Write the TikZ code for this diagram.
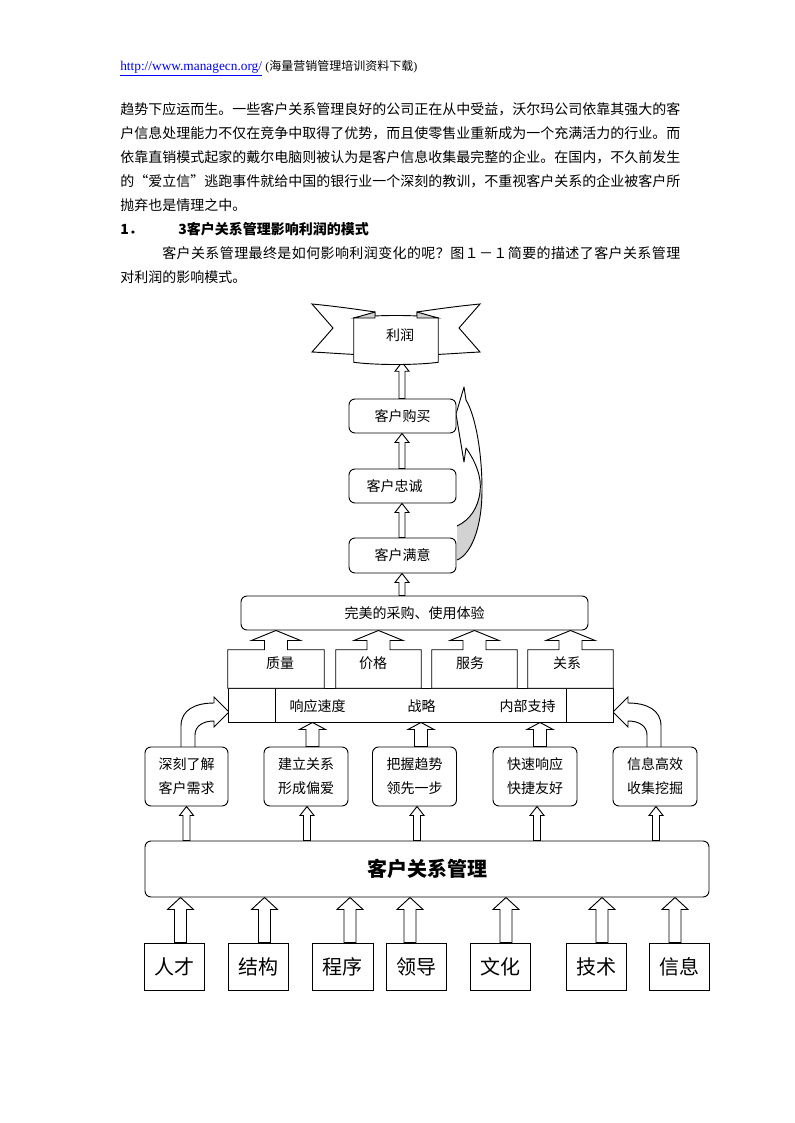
\documentclass[tikz,border=0pt]{standalone}
\usepackage{fontspec}
\setmainfont{Liberation Serif}
\newfontfamily\cjk{Noto Sans CJK SC}
\usetikzlibrary{calc}
\pgfdeclarelayer{paper}
\pgfdeclarelayer{bg}
\pgfsetlayers{paper,bg,main}
\newlength\pxu
\setlength\pxu{0.75pt}
\def\jglue{\hskip 0pt plus 1pt\relax}
\XeTeXinterchartoks 0 0 = {\jglue}
\XeTeXinterchartoks 0 1 = {\jglue}
\XeTeXinterchartoks 0 2 = {\jglue}
\XeTeXinterchartoks 0 3 = {\jglue}
\XeTeXinterchartoks 1 0 = {\jglue}
\XeTeXinterchartoks 1 1 = {\jglue}
\XeTeXinterchartoks 1 2 = {\jglue}
\XeTeXinterchartoks 1 3 = {\jglue}
\XeTeXinterchartoks 2 0 = {\jglue}
\XeTeXinterchartoks 2 1 = {\jglue}
\XeTeXinterchartoks 2 2 = {\jglue}
\XeTeXinterchartoks 2 3 = {\jglue}
\XeTeXinterchartoks 3 0 = {\jglue}
\XeTeXinterchartoks 3 1 = {\jglue}
\XeTeXinterchartoks 3 2 = {\jglue}
\XeTeXinterchartoks 3 3 = {\jglue}
\newcommand\jline[2]{{\XeTeXinterchartokenstate=1 \hbox to #1{#2}}}
% hollow block arrow: x (px), tip point, tail point, shaft half, head half, head length (px)
\newcommand\blkup[6]{%
  \draw[blk] let \p1=(#2), \p2=(#3) in
  ({(#1-#4)*0.75pt},\y2) -- ({(#1-#4)*0.75pt},{\y1-(#6)*0.75pt}) --
  ({(#1-#5)*0.75pt},{\y1-(#6)*0.75pt}) -- ({(#1)*0.75pt},\y1) --
  ({(#1+#5)*0.75pt},{\y1-(#6)*0.75pt}) -- ({(#1+#4)*0.75pt},{\y1-(#6)*0.75pt}) --
  ({(#1+#4)*0.75pt},\y2) -- cycle;}
% up arrow callout: body node, target node
\newcommand\callup[2]{%
  \draw[blk] let \p1=(#1.south west), \p2=(#1.north east), \p3=(#1.center), \p4=(#2.south) in
  (\x1,\y1) -- (\x1,\y2) -- ({\x3-8.625pt},\y2) -- ({\x3-8.625pt},{\y4-7.5pt}) --
  ({\x3-18.375pt},{\y4-7.5pt}) -- (\x3,\y4) -- ({\x3+18.375pt},{\y4-7.5pt}) --
  ({\x3+8.625pt},{\y4-7.5pt}) -- ({\x3+8.625pt},\y2) -- (\x2,\y2) -- (\x2,\y1) -- cycle;}
\begin{document}
\begin{tikzpicture}[x=0.75pt,y=-0.75pt,
  lw/.style={line width=0.7pt},
  body/.style={inner sep=0pt, anchor=west, font=\cjk\fontsize{10.5pt}{18pt}\selectfont},
  lbl/.style={inner sep=0pt, font=\cjk\fontsize{10.5pt}{18pt}\selectfont},
  big/.style={font=\cjk\fontsize{15pt}{18pt}\selectfont},
  wh/.style 2 args={minimum width={(#1)*0.75pt}, minimum height={(#2)*0.75pt}},
  ghost/.style={inner sep=0pt, lbl},
  rbox/.style={draw, lw, rounded corners=4.5pt, fill=white, inner sep=0pt, lbl},
  sbox/.style={draw, lw, fill=white, inner sep=0pt, lbl},
  blk/.style={draw, lw, fill=white, line join=miter},
  shade/.style={fill=gray!35}]
\begin{pgfonlayer}{paper}
\fill[white] (0,0) rectangle (794,1123);
\end{pgfonlayer}
\useasboundingbox (0,0) rectangle (794,1123);

% ---------- header and running text ----------
\node[inner sep=0pt, anchor=base west, font=\fontsize{10pt}{12pt}\selectfont] (hdr) at (120,71)
  {\textcolor{blue}{\underline{http://www.managecn.org/}}\ {\fontsize{9pt}{11pt}\selectfont(\cjk 海量营销管理培训资料下载\rmfamily)}};
\node[body] (p1) at (120,109) {\jline{560\pxu}{趋势下应运而生。一些客户关系管理良好的公司正在从中受益，沃尔玛公司依靠其强大的客}};
\node[body] (p2) at (120,133) {\jline{560\pxu}{户信息处理能力不仅在竞争中取得了优势，而且使零售业重新成为一个充满活力的行业。而}};
\node[body] (p3) at (120,157) {\jline{560\pxu}{依靠直销模式起家的戴尔电脑则被认为是客户信息收集最完整的企业。在国内，不久前发生}};
\node[body] (p4) at (120,181) {\jline{560\pxu}{的“爱立信”逃跑事件就给中国的银行业一个深刻的教训，不重视客户关系的企业被客户所}};
\node[body] (p5) at (120,205) {抛弃也是情理之中。};
\node[body, font=\cjk\bfseries\fontsize{10.5pt}{18pt}\selectfont] (title) at (120,229)
  {\makebox[58\pxu][l]{1．}3客户关系管理影响利润的模式};
\node[body] (p6) at (162,253) {\jline{518\pxu}{客户关系管理最终是如何影响利润变化的呢？图１－１简要的描述了客户关系管理}};
\node[body] (p7) at (120,277) {对利润的影响模式。};

% ---------- nodes ----------
\node[ghost, wh={84}{44}] (profit) at (396,340) {};
\node[rbox, wh={107}{34}] (buy) at (402.5,416) {客户购买};
\node[rbox, wh={107}{34}] (loyal) at (402.5,486) {\hspace*{-16\pxu}客户忠诚};
\node[rbox, wh={107}{35}] (satis) at (402.5,555.5) {客户满意};
\node[rbox, wh={347}{34}] (exp) at (414.5,613) {完美的采购、使用体验};

\node[ghost, wh={96}{38}] (q1) at (276,669) {};
\node[ghost, wh={85}{38}] (q2) at (378.5,669) {};
\node[ghost, wh={85}{38}] (q3) at (474.5,669) {};
\node[ghost, wh={85}{38}] (q4) at (570.5,669) {};

\node[sbox, wh={385}{34}] (strip) at (420.5,705) {};

\node[rbox, wh={83}{59}, align=center] (m1) at (186.5,776.5) {深刻了解\\客户需求};
\node[rbox, wh={84}{59}, align=center] (m2) at (306,776.5) {建立关系\\形成偏爱};
\node[rbox, wh={84}{59}, align=center] (m3) at (414.5,776.5) {把握趋势\\领先一步};
\node[rbox, wh={84}{59}, align=center] (m4) at (535,776.5) {快速响应\\快捷友好};
\node[rbox, wh={84}{59}, align=center] (m5) at (655,776.5) {信息高效\\收集挖掘};

\node[rbox, wh={564}{56}, font=\cjk\bfseries\fontsize{15pt}{18pt}\selectfont] (crm) at (427,869) {客户关系管理};

\node[sbox, big, wh={60}{47}] (b1) at (174,966.5) {人才};
\node[sbox, big, wh={60}{47}] (b2) at (258,966.5) {结构};
\node[sbox, big, wh={61}{47}] (b3) at (342.5,966.5) {程序};
\node[sbox, big, wh={60}{47}] (b4) at (416,966.5) {领导};
\node[sbox, big, wh={60}{47}] (b5) at (500,966.5) {文化};
\node[sbox, big, wh={60}{47}] (b6) at (596,966.5) {技术};
\node[sbox, big, wh={60}{47}] (b7) at (679,966.5) {信息};

% ---------- banner (利润) ----------
\draw[lw, fill=white] (312,304) .. controls (333,306) and (355,309) .. (375,312) -- (375,355)
  .. controls (355,355) and (333,353) .. (312,352) -- (333,328) -- cycle;
\draw[lw, fill=white] (480,304) .. controls (459,306) and (437,309) .. (417,312) -- (417,355)
  .. controls (437,355) and (459,353) .. (480,352) -- (459,328) -- cycle;
\draw[lw, fill=white] (profit.north west) .. controls +(22,-3) and +(-22,-3) .. (profit.north east)
  -- (profit.south east) .. controls +(-22,3) and +(22,3) .. (profit.south west) -- cycle;
\draw[lw, shade] (354,318) -- (375,312) -- (375,318) -- cycle;
\draw[lw, shade] (438,318) -- (417,312) -- (417,318) -- cycle;
\node[lbl] (profitlbl) at (400,335) {利润};

% ---------- strip dividers and labels ----------
\draw[lw] (275,688) -- (275,722);
\draw[lw] (566,688) -- (566,722);
\node[lbl] (s1) at (317.5,706) {响应速度};
\node[lbl] (s2) at (421.5,706) {战略};
\node[lbl] (s3) at (527.5,706) {内部支持};

% ---------- up-arrow callouts ----------
\callup{q1}{exp}
\callup{q2}{exp}
\callup{q3}{exp}
\callup{q4}{exp}
\node[lbl] (q1l) at (280,663) {质量};
\node[lbl] (q2l) at (373,663) {价格};
\node[lbl] (q3l) at (470,663) {服务};
\node[lbl] (q4l) at (567,663) {关系};

% ---------- arrows (behind the boxes) ----------
\begin{pgfonlayer}{bg}
\blkup{402}{profit.south}{buy.north}{3}{7}{9}
\blkup{402}{buy.south}{loyal.north}{3}{7}{9}
\blkup{402}{loyal.south}{satis.north}{3}{7}{9}
\blkup{402}{satis.south}{exp.north}{3}{7}{9}

\blkup{312.5}{strip.south}{m2.north}{6.5}{13}{7}
\blkup{421}{strip.south}{m3.north}{6.5}{13}{7}
\blkup{540}{strip.south}{m4.north}{6.5}{13}{7}

\blkup{186.5}{m1.south}{crm.north}{3.5}{7}{9}
\blkup{307}{m2.south}{crm.north}{3.5}{7}{9}
\blkup{417}{m3.south}{crm.north}{3.5}{7}{9}
\blkup{537}{m4.south}{crm.north}{3.5}{7}{9}
\blkup{656}{m5.south}{crm.north}{3.5}{7}{9}

\blkup{180.5}{crm.south}{b1.north}{6}{13}{12}
\blkup{264.5}{crm.south}{b2.north}{6}{13}{12}
\blkup{350}{crm.south}{b3.north}{6}{13}{12}
\blkup{410}{crm.south}{b4.north}{6}{13}{12}
\blkup{506}{crm.south}{b5.north}{6}{13}{12}
\blkup{602}{crm.south}{b6.north}{6}{13}{12}
\blkup{675}{crm.south}{b7.north}{6}{13}{12}

% curved arrow: 深刻了解 -> strip (left)
\draw[blk] (181,747) -- (181,726) .. controls (181,710) and (195,703) .. (214,703) -- (214,697)
  -- (229,712) -- (214,727) -- (214,721) .. controls (203,721) and (195,726) .. (195,735) -- (195,747);
% curved arrow: 信息高效 -> strip (right)
\draw[blk] (661,747) -- (661,726) .. controls (661,710) and (647,703) .. (628,703) -- (628,697)
  -- (613,712) -- (628,727) -- (628,721) .. controls (639,721) and (647,726) .. (647,735) -- (647,747);

% curved arrow: 客户满意 -> 客户购买 (right side)
\fill[white] (466,400) -- (464,387) -- (456,414) -- (464,462) -- (466,448)
  .. controls (476,462) and (482,478) .. (480,492) .. controls (478,508) and (470,520) .. (457,526)
  -- (457,560) .. controls (470,555) and (482,530) .. (482,490) .. controls (482,450) and (475,415) .. (466,400);
\fill[shade] (480,492) .. controls (478,508) and (470,520) .. (457,526) -- (457,560)
  .. controls (470,555) and (482,530) .. (482,490) -- cycle;
\draw[lw, line join=round] (466,400) -- (464,387) -- (456,414) -- (464,462) -- (466,448)
  .. controls (476,462) and (482,478) .. (480,492) .. controls (478,508) and (470,520) .. (457,526);
\draw[lw] (457,560) .. controls (470,555) and (482,530) .. (482,490) .. controls (482,450) and (475,415) .. (466,400);
\end{pgfonlayer}
\end{tikzpicture}
\end{document}
